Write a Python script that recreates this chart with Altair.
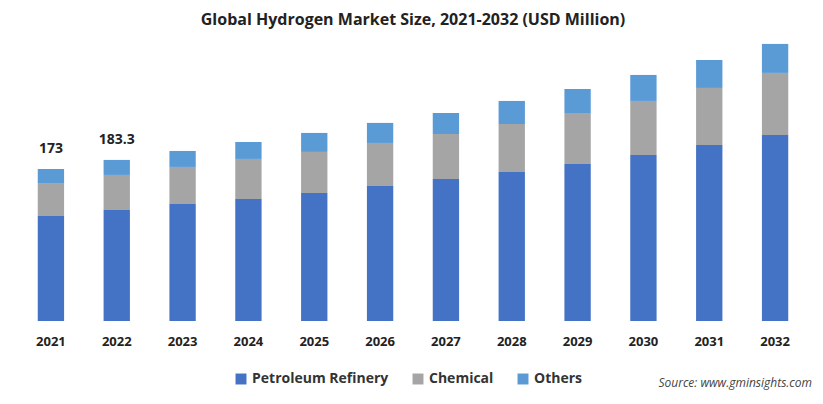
import altair as alt
import pandas as pd

years = [str(y) for y in range(2021, 2033)]
petroleum = [119.5, 126.3, 133.2, 138.9, 145.7, 153.7, 161.6, 169.6, 178.7, 188.9, 200.3, 211.7]
chemical = [37.5, 39.9, 42.1, 45.5, 46.7, 48.9, 51.2, 54.6, 58.0, 61.5, 64.9, 70.6]
others = [16.0, 17.1, 18.2, 19.3, 21.6, 22.8, 23.9, 26.2, 27.3, 29.6, 31.8, 33.0]
segments = ["Petroleum Refinery", "Chemical", "Others"]
colors = ["#4472C4", "#A5A5A5", "#5B9BD5"]
label_years = ["2021", "2022"]
label_values = [173, 183.3]
label_text = ["173", "183.3"]

FONT = "Open Sans"

rows = []
for i, y in enumerate(years):
    for k, (seg, vals) in enumerate(zip(segments, [petroleum, chemical, others])):
        rows.append({"year": y, "segment": seg, "value": vals[i], "order": k})
df = pd.DataFrame(rows)

x_enc = alt.X("year:N", sort=years, title=None,
              scale=alt.Scale(paddingInner=0.6, paddingOuter=0.3),
              axis=alt.Axis(domain=False, ticks=False, labelAngle=0, labelPadding=14,
                            labelFont=FONT, labelFontSize=13, labelFontWeight="bold",
                            labelColor="#222222"))
y_scale = alt.Scale(domain=[0, 330], nice=False)

bars = alt.Chart(df).mark_bar().encode(
    x=x_enc,
    y=alt.Y("value:Q", stack="zero", scale=y_scale, axis=None),
    color=alt.Color("segment:N", sort=segments,
                    scale=alt.Scale(domain=segments, range=colors),
                    legend=alt.Legend(title=None, orient="none", direction="horizontal",
                                      legendX=216, legendY=341, symbolType="square",
                                      symbolSize=120, labelFont=FONT, labelFontSize=14,
                                      labelFontWeight="bold", labelColor="#333333",
                                      columnPadding=22, symbolStrokeWidth=0)),
    order=alt.Order("order:Q"),
)

lab_df = pd.DataFrame({"year": label_years, "value": label_values, "text": label_text})
labels = alt.Chart(lab_df).mark_text(dy=-20, font=FONT, fontSize=14, fontWeight="bold",
                                     color="#222222").encode(
    x=alt.X("year:N", sort=years),
    y=alt.Y("value:Q", scale=y_scale),
    text="text:N",
)

src = alt.Chart(pd.DataFrame({"t": ["Source: www.gminsights.com"]})).mark_text(
    align="right", font=FONT, fontSize=12, fontStyle="italic", color="#444444"
).encode(x=alt.value(794), y=alt.value(352), text="t:N")

chart = alt.layer(bars, labels, src).properties(
    width=790, height=290,
    padding={"left": 10, "top": 23, "right": 7, "bottom": 75},
    autosize=alt.AutoSizeParams(type="none"),
    title=alt.TitleParams("Global Hydrogen Market Size, 2021-2032 (USD Million)",
                          font=FONT, fontSize=16, fontWeight="bold", color="#222222",
                          offset=3),
).configure_view(stroke=None)

chart.save("out.html", embed_options={"renderer": "svg", "actions": False})
